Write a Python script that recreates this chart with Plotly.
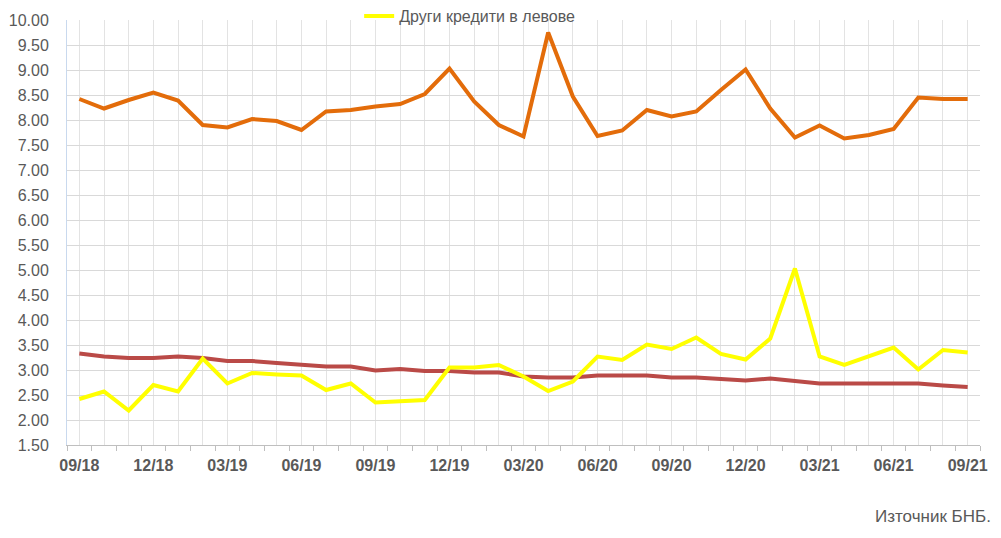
import plotly.graph_objects as go

months = ["09/18", "10/18", "11/18", "12/18", "01/19", "02/19", "03/19", "04/19", "05/19",
          "06/19", "07/19", "08/19", "09/19", "10/19", "11/19", "12/19", "01/20", "02/20",
          "03/20", "04/20", "05/20", "06/20", "07/20", "08/20", "09/20", "10/20", "11/20",
          "12/20", "01/21", "02/21", "03/21", "04/21", "05/21", "06/21", "07/21", "08/21", "09/21"]

consumer = [8.42, 8.23, 8.40, 8.55, 8.39, 7.90, 7.85, 8.02, 7.98, 7.80, 8.17, 8.20, 8.27,
            8.32, 8.52, 9.03, 8.37, 7.90, 7.67, 9.75, 8.47, 7.68, 7.79, 8.20, 8.07, 8.17,
            8.60, 9.01, 8.23, 7.65, 7.89, 7.63, 7.70, 7.82, 8.45, 8.42, 8.42]

housing = [3.33, 3.27, 3.24, 3.24, 3.27, 3.24, 3.18, 3.18, 3.14, 3.10, 3.07, 3.07, 2.99,
           3.02, 2.98, 2.98, 2.95, 2.95, 2.87, 2.85, 2.85, 2.89, 2.89, 2.89, 2.85, 2.85,
           2.82, 2.79, 2.83, 2.79, 2.73, 2.73, 2.73, 2.73, 2.73, 2.69, 2.66]

other = [2.42, 2.57, 2.19, 2.70, 2.57, 3.23, 2.73, 2.94, 2.91, 2.89, 2.60, 2.73, 2.35,
         2.38, 2.40, 3.05, 3.05, 3.10, 2.87, 2.58, 2.77, 3.27, 3.20, 3.51, 3.42, 3.65,
         3.32, 3.21, 3.63, 5.03, 3.27, 3.10, 3.27, 3.45, 3.01, 3.40, 3.35]

label_every = 3
idx = list(range(len(months)))
ticktext = [m if i % label_every == 0 else "" for i, m in enumerate(months)]

GRAY = "#595959"
FONT = "Liberation Sans, Arial, sans-serif"

fig = go.Figure()
fig.add_trace(go.Scatter(x=idx, y=housing, mode="lines", name="Жилищни кредити в левове",
                         line=dict(color="#BA4A47", width=4), showlegend=False))
fig.add_trace(go.Scatter(x=idx, y=consumer, mode="lines", name="Потребителски кредити в левове",
                         line=dict(color="#E36C0A", width=4), showlegend=False))
fig.add_trace(go.Scatter(x=idx, y=other, mode="lines", name="Други кредити в левове",
                         line=dict(color="#FFFF00", width=4), showlegend=True))

fig.update_layout(
    width=993, height=530,
    margin=dict(l=59, r=21, t=12, b=93, autoexpand=False),
    paper_bgcolor="white", plot_bgcolor="white",
    font=dict(family=FONT, color=GRAY, size=16),
    showlegend=True,
    legend=dict(orientation="h", x=0.32, y=1.009, xanchor="left", yanchor="middle",
                font=dict(size=16, color=GRAY), bgcolor="rgba(0,0,0,0)",
                tracegroupgap=0, borderwidth=0),
    xaxis=dict(
        range=[-0.5, len(months) - 0.5], automargin=False,
        tickmode="array", tickvals=idx, ticktext=ticktext,
        showgrid=True, gridcolor="#E3E3E3", gridwidth=1,
        ticks="", showline=True, linecolor="#BFBFBF", linewidth=1,
        tickfont=dict(size=16, color=GRAY, family=FONT, weight="bold"),
        ticklabelstandoff=6,
        minor=dict(tickmode="linear", tick0=-0.5, dtick=1, ticks="outside",
                   ticklen=5, tickcolor="#BFBFBF", tickwidth=1, showgrid=False),
        zeroline=False, fixedrange=True,
    ),
    yaxis=dict(
        range=[1.5, 10], tickmode="linear", tick0=1.5, dtick=0.5, tickformat=".2f",
        automargin=False,
        showgrid=True, gridcolor="#D9D9D9", gridwidth=1,
        showline=True, linecolor="#C9D9EE", linewidth=1,
        ticks="", ticklabelstandoff=14,
        tickfont=dict(size=16, color=GRAY, family=FONT),
        zeroline=False, fixedrange=True,
    ),
    annotations=[dict(text="Източник БНБ.", xref="paper", yref="paper",
                      x=1.014, y=-0.169, xanchor="right", yanchor="middle",
                      showarrow=False, font=dict(size=17, color=GRAY, family=FONT))],
)

fig.write_html("out.html")
